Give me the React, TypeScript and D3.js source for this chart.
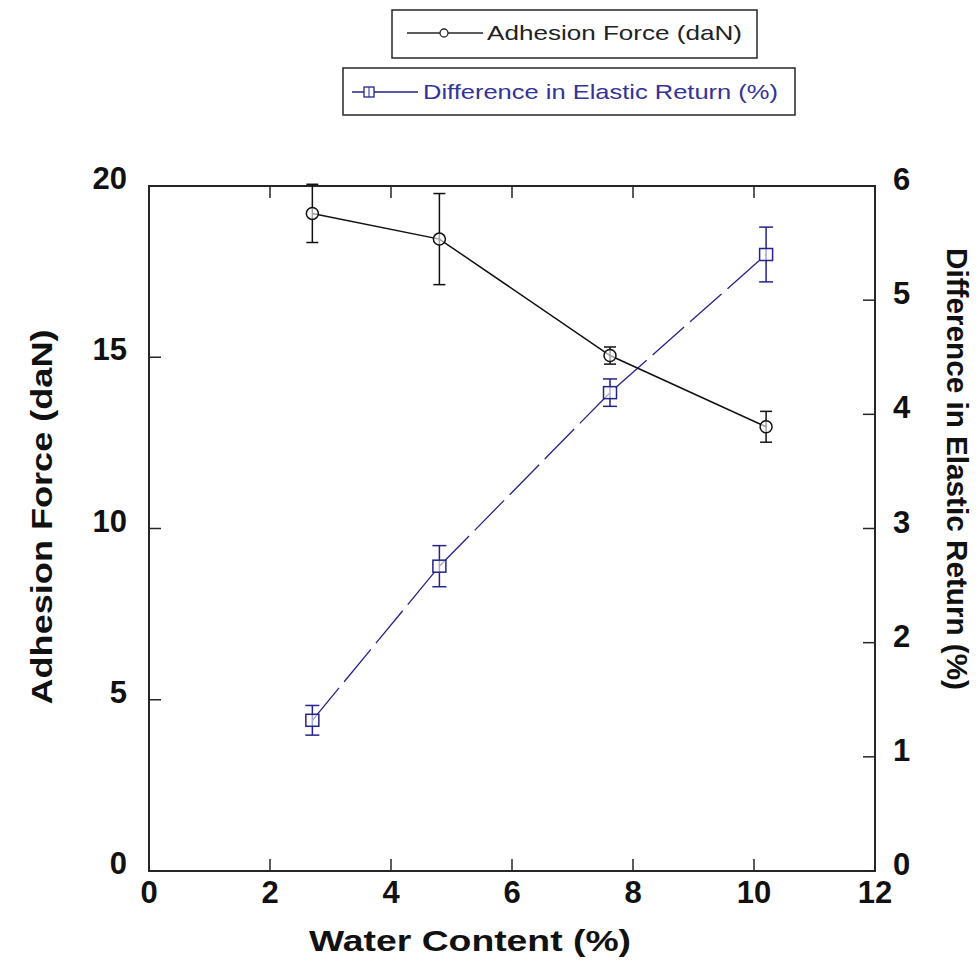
import React from "react";
import * as d3 from "d3";

const waterContent = [2.7, 4.8, 7.62, 10.2];
const adhesionForce = [19.2, 18.45, 15.05, 12.97];
const adhesionErr = [0.85, 1.33, 0.25, 0.45];
const elasticReturn = [1.32, 2.67, 4.19, 5.4];
const elasticErr = [0.13, 0.18, 0.12, 0.24];
const xTicks = [0, 2, 4, 6, 8, 10, 12];
const yLeftTicks = [0, 5, 10, 15, 20];
const yRightTicks = [0, 1, 2, 3, 4, 5, 6];

const W = 979, H = 963;
const L = 149, R = 875, T = 186, B = 871;
const NAVY = "#23238a";
const AX = "#262626";

export default function App() {
  const x = d3.scaleLinear().domain([0, 12]).range([L, R]);
  const yl = d3.scaleLinear().domain([0, 20]).range([B, T]);
  const yr = d3.scaleLinear().domain([0, 6]).range([B, T]);
  const line1 = d3.line<number>().x((_, i) => x(waterContent[i])).y((d) => yl(d));
  const line2 = d3.line<number>().x((_, i) => x(waterContent[i])).y((d) => yr(d));
  const font = "Arial, 'Liberation Sans', Helvetica, sans-serif";
  const tick = 12;
  return (
    <svg width={W} height={H} style={{ position: "absolute", left: 0, top: 0, background: "#fff" }} fontFamily={font}>
      {/* Legend */}
      <rect x={392} y={10} width={365} height={48} fill="#fff" stroke={AX} strokeWidth={1.5} />
      <line x1={407} x2={483} y1={33} y2={33} stroke={AX} strokeWidth={1.3} />
      <circle cx={444} cy={33} r={4} fill="#fff" stroke={AX} strokeWidth={1.3} />
      <text x={487} y={40} fontSize={21} fill="#222" textLength={255} lengthAdjust="spacingAndGlyphs">Adhesion Force (daN)</text>

      <rect x={343} y={68} width={452} height={47} fill="#fff" stroke={AX} strokeWidth={1.5} />
      <line x1={352} x2={418} y1={92} y2={92} stroke={NAVY} strokeWidth={1.3} />
      <rect x={364} y={87} width={10} height={10} fill="#fff" stroke={NAVY} strokeWidth={1.3} />
      <line x1={369} x2={369} y1={87} y2={97} stroke={NAVY} strokeWidth={1} />
      <text x={423} y={99} fontSize={21} fill="#33339a" textLength={355} lengthAdjust="spacingAndGlyphs">Difference in Elastic Return (%)</text>

      {/* Axes frame */}
      <rect x={L} y={T} width={R - L} height={B - T} fill="none" stroke={AX} strokeWidth={2} />
      {xTicks.map((t) => (
        <g key={"x" + t}>
          <line x1={x(t)} x2={x(t)} y1={B} y2={B - tick} stroke={AX} strokeWidth={1.5} />
          <line x1={x(t)} x2={x(t)} y1={T} y2={T + tick} stroke={AX} strokeWidth={1.5} />
          <text x={x(t)} y={903} fontSize={31} fontWeight="bold" textAnchor="middle" fill="#111">{t}</text>
        </g>
      ))}
      {yLeftTicks.map((t) => (
        <g key={"yl" + t}>
          <line x1={L} x2={L + tick} y1={yl(t)} y2={yl(t)} stroke={AX} strokeWidth={1.5} />
          <text x={127} y={yl(t) + 3} fontSize={31} fontWeight="bold" textAnchor="end" fill="#111">{t}</text>
        </g>
      ))}
      {yRightTicks.map((t) => (
        <g key={"yr" + t}>
          <line x1={R} x2={R - tick} y1={yr(t)} y2={yr(t)} stroke={AX} strokeWidth={1.5} />
          <text x={893} y={yr(t) + 4} fontSize={31} fontWeight="bold" textAnchor="start" fill="#111">{t}</text>
        </g>
      ))}

      {/* Axis titles */}
      <text x={470} y={951} fontSize={30} fontWeight="bold" textAnchor="middle" fill="#111" textLength={322} lengthAdjust="spacingAndGlyphs">Water Content (%)</text>
      <text transform={`translate(52,517) rotate(-90)`} fontSize={30} fontWeight="bold" textAnchor="middle" fill="#111" textLength={375} lengthAdjust="spacingAndGlyphs">Adhesion Force (daN)</text>
      <text transform={`translate(947,469) rotate(90)`} fontSize={30} fontWeight="bold" textAnchor="middle" fill="#111" textLength={442} lengthAdjust="spacingAndGlyphs">Difference in Elastic Return (%)</text>

      {/* Series 2: elastic return */}
      <path d={line2(elasticReturn) || ""} fill="none" stroke={NAVY} strokeWidth={1.3} strokeDasharray="42 8" />
      {elasticReturn.map((v, i) => {
        const cx = x(waterContent[i]);
        const y1 = yr(v + elasticErr[i]);
        const y2 = yr(v - elasticErr[i]);
        return (
          <g key={"s2" + i} stroke={NAVY} strokeWidth={1.5}>
            <line x1={cx} x2={cx} y1={y1} y2={y2} />
            <line x1={cx - 7} x2={cx + 7} y1={y1} y2={y1} />
            <line x1={cx - 7} x2={cx + 7} y1={y2} y2={y2} />
            <rect x={cx - 6.5} y={yr(v) - 6} width={13} height={12} fill="#fff" fillOpacity={0.6} />
          </g>
        );
      })}

      {/* Series 1: adhesion force */}
      <path d={line1(adhesionForce) || ""} fill="none" stroke="#111" strokeWidth={1.5} />
      {adhesionForce.map((v, i) => {
        const cx = x(waterContent[i]);
        const y1 = yl(v + adhesionErr[i]);
        const y2 = yl(v - adhesionErr[i]);
        return (
          <g key={"s1" + i} stroke="#111" strokeWidth={1.5}>
            <line x1={cx} x2={cx} y1={y1} y2={y2} />
            <line x1={cx - 6} x2={cx + 6} y1={y1} y2={y1} />
            <line x1={cx - 6} x2={cx + 6} y1={y2} y2={y2} />
            <circle cx={cx} cy={yl(v)} r={6} fill="#fff" fillOpacity={0.6} />
          </g>
        );
      })}
    </svg>
  );
}
